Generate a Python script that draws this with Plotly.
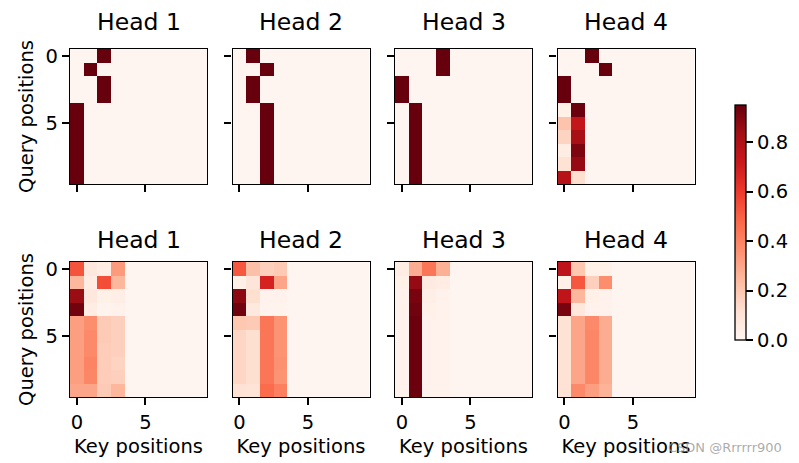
import plotly.graph_objects as go

# ---------------- data ----------------
KEY_POSITIONS = list(range(10))
QUERY_POSITIONS = list(range(10))
HEAD_TITLES = ["Head 1", "Head 2", "Head 3", "Head 4"]
TICK_VALUES = [0, 5]
CBAR_TICKS = [0.0, 0.2, 0.4, 0.6, 0.8]

# attention weights for key positions 0..3 (keys 4..9 are masked -> 0)
layer1_head1 = [[0, 0, .95, 0], [0, .95, 0, 0], [0, 0, .95, 0], [0, 0, .95, 0],
                [.95, 0, 0, 0], [.95, 0, 0, 0], [.95, 0, 0, 0], [.95, 0, 0, 0],
                [.95, 0, 0, 0], [.95, 0, 0, 0]]
layer1_head2 = [[0, .95, 0, 0], [0, 0, .95, 0], [0, .95, 0, 0], [0, .95, 0, 0],
                [0, 0, .95, 0], [0, 0, .95, 0], [0, 0, .95, 0], [0, 0, .95, 0],
                [0, 0, .95, 0], [0, 0, .95, 0]]
layer1_head3 = [[0, 0, 0, .95], [0, 0, 0, .95], [.95, 0, 0, 0], [.95, 0, 0, 0],
                [0, .95, 0, 0], [0, .95, 0, 0], [0, .95, 0, 0], [0, .95, 0, 0],
                [0, .95, 0, 0], [0, .95, 0, 0]]
layer1_head4 = [[0, 0, .95, 0], [0, 0, 0, .95], [.95, 0, 0, 0], [.95, 0, 0, 0],
                [.03, .94, 0, 0], [.21, .74, 0, 0], [.16, .82, 0, 0], [.05, .91, 0, 0],
                [.11, .86, 0, 0], [.78, .12, 0, 0]]

layer2_head1 = [[.53, .08, .05, .33], [.25, .05, .55, .25], [.85, .08, .03, .04],
                [.93, .05, .01, .02], [.32, .37, .19, .17], [.32, .38, .19, .17],
                [.32, .38, .18, .17], [.32, .40, .18, .16], [.32, .39, .18, .17],
                [.30, .30, .19, .25]]
layer2_head2 = [[.52, .22, .17, .19], [.03, .09, .68, .30], [.88, .12, .02, .02],
                [.93, .07, .01, .01], [.20, .19, .44, .35], [.15, .12, .44, .35],
                [.15, .12, .44, .35], [.15, .12, .44, .36], [.15, .12, .44, .35],
                [.11, .10, .47, .41]]
layer2_head3 = [[.05, .28, .44, .27], [.03, .86, .06, .05], [.02, .92, .04, .02],
                [.02, .93, .03, .02], [.02, .94, .02, .02], [.02, .94, .02, .02],
                [.02, .94, .02, .02], [.02, .94, .02, .02], [.02, .94, .02, .02],
                [.02, .94, .02, .02]]
layer2_head4 = [[.76, .20, .03, .03], [.03, .52, .17, .37], [.75, .25, .03, .02],
                [.92, .08, .02, .02], [.11, .30, .38, .28], [.11, .30, .39, .28],
                [.11, .30, .39, .28], [.11, .30, .39, .28], [.11, .30, .39, .28],
                [.11, .38, .32, .26]]

LAYERS = [[layer1_head1, layer1_head2, layer1_head3, layer1_head4],
          [layer2_head1, layer2_head2, layer2_head3, layer2_head4]]

REDS = ['rgb(255,245,240)', 'rgb(254,224,210)', 'rgb(252,187,161)',
        'rgb(252,146,114)', 'rgb(251,106,74)', 'rgb(239,59,44)',
        'rgb(203,24,29)', 'rgb(165,15,21)', 'rgb(103,0,13)']

# ---------------- layout geometry ----------------
W, H = 799, 463
col_px = [(70, 207), (232.5, 369.5), (395, 532), (557.5, 694.5)]
row_px = [(49, 184), (262, 397)]
title_y_px = [22, 240]
FONT = "DejaVu Sans"
LBL = 19.5

fig = go.Figure()
layout = dict(
    width=W, height=H,
    margin=dict(l=0, r=0, t=0, b=0, autoexpand=False),
    paper_bgcolor="white", plot_bgcolor="white",
    font=dict(family=FONT, size=LBL, color="black"),
    coloraxis=dict(
        colorscale=[[i / 8, c] for i, c in enumerate(REDS)],
        cmin=0, cmax=0.95,
        colorbar=dict(
            x=735 / W, xanchor="left", xpad=0, ypad=0,
            y=1 - 222.5 / H, yanchor="middle",
            len=235 / H, lenmode="fraction",
            thickness=11, thicknessmode="pixels",
            outlinewidth=1.3, outlinecolor="black",
            ticks="outside", ticklen=7, tickwidth=1.5, tickcolor="black",
            tickvals=CBAR_TICKS, ticktext=[f"{v:.1f}" for v in CBAR_TICKS],
            tickfont=dict(family=FONT, size=LBL, color="black"),
        ),
    ),
    showlegend=False,
    annotations=[],
)

idx = 0
for r, heads in enumerate(LAYERS):
    for c, head in enumerate(heads):
        idx += 1
        sfx = "" if idx == 1 else str(idx)
        z = [row + [0.0] * (len(KEY_POSITIONS) - len(row)) for row in head]
        fig.add_trace(go.Heatmap(
            z=z, x=KEY_POSITIONS, y=QUERY_POSITIONS,
            coloraxis="coloraxis", xaxis="x" + sfx, yaxis="y" + sfx,
            hoverinfo="skip",
        ))
        x0, x1 = col_px[c]
        y0, y1 = row_px[r]
        common = dict(
            showgrid=False, zeroline=False, showline=True, mirror=True,
            linecolor="black", linewidth=1.3,
            ticks="outside", ticklen=7, tickwidth=1.5, tickcolor="black",
            tickvals=TICK_VALUES, tickfont=dict(family=FONT, size=LBL, color="black"),
            automargin=False,
        )
        layout["xaxis" + sfx] = dict(
            common, domain=[x0 / W, x1 / W], range=[-0.5, 9.5],
            anchor="y" + sfx, showticklabels=(r == 1),
            title=dict(text="Key positions" if r == 1 else "",
                       font=dict(family=FONT, size=LBL), standoff=6),
        )
        layout["yaxis" + sfx] = dict(
            common, domain=[1 - y1 / H, 1 - y0 / H], range=[9.5, -0.5],
            anchor="x" + sfx, showticklabels=(c == 0),
            title=dict(text="Query positions" if c == 0 else "",
                       font=dict(family=FONT, size=LBL), standoff=6),
        )
        layout["annotations"].append(dict(
            text=HEAD_TITLES[c], xref="paper", yref="paper",
            x=(x0 + x1) / 2 / W, y=1 - title_y_px[r] / H,
            xanchor="center", yanchor="middle", showarrow=False,
            font=dict(family=FONT, size=23.5, color="black"),
        ))

layout["annotations"].append(dict(
    text="CSDN @Rrrrrr900", xref="paper", yref="paper",
    x=725 / W, y=1 - 447 / H, xanchor="center", yanchor="middle",
    showarrow=False, font=dict(family=FONT, size=13, color="rgba(150,150,150,0.8)"),
))

fig.update_layout(**layout)
fig.write_html("out.html", config={"displayModeBar": False},
               post_script="document.body.style.margin='0';")
